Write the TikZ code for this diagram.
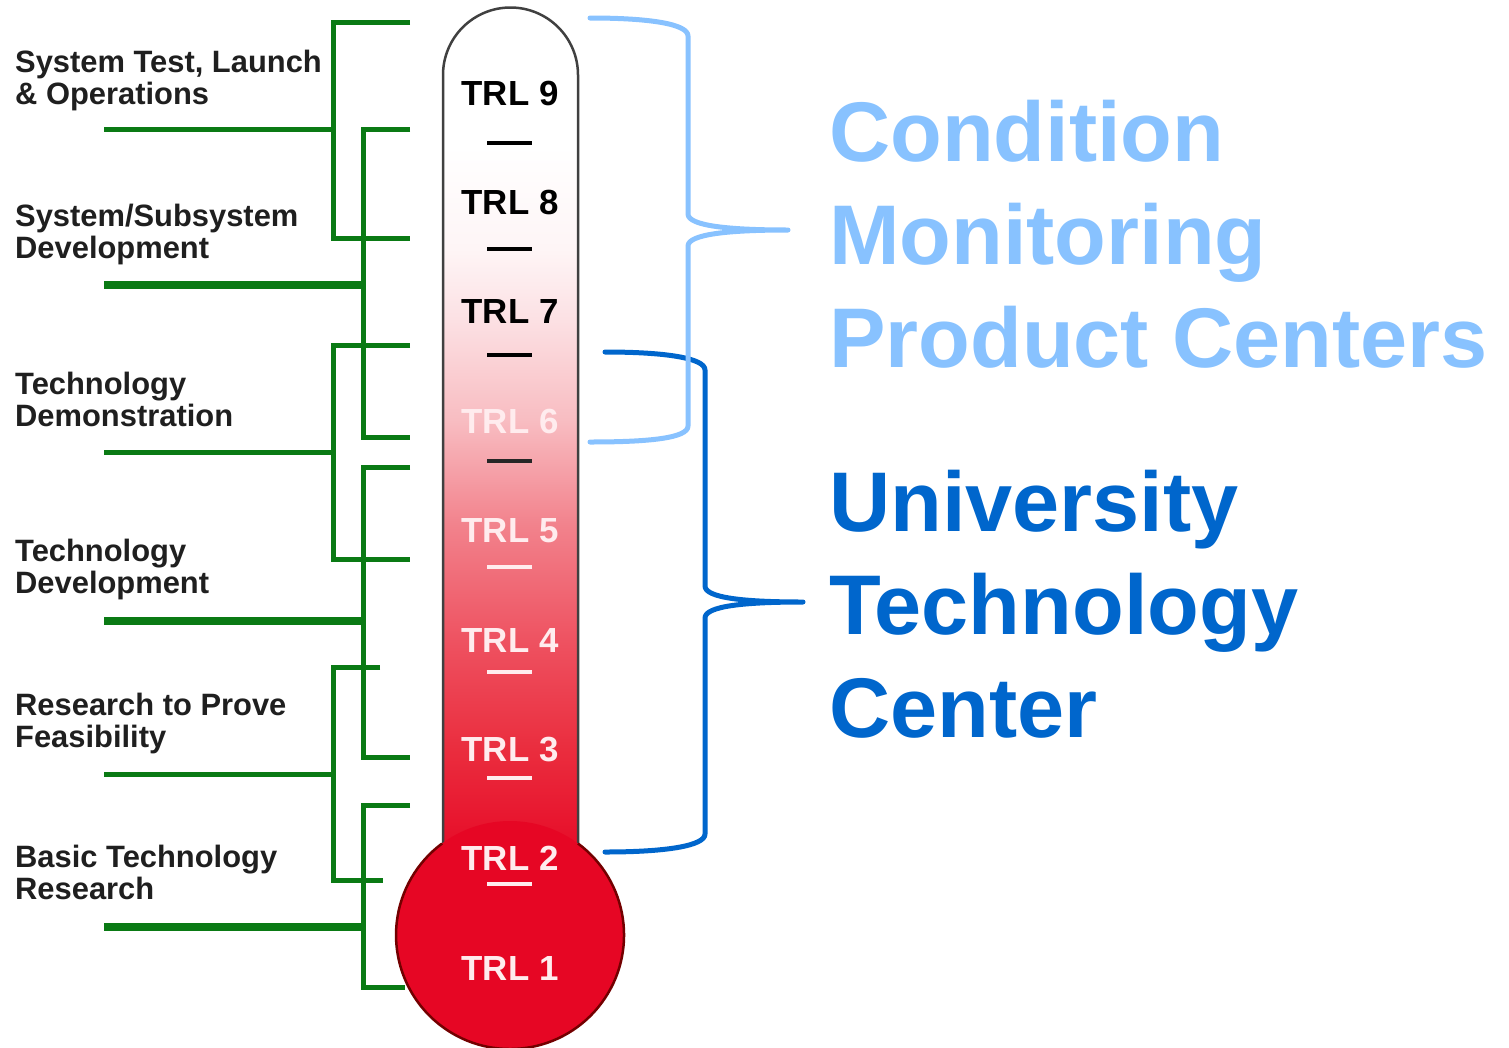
\documentclass[tikz,border=0pt]{standalone}
\usepackage{fontspec}
\setmainfont{Liberation Sans}
\usetikzlibrary{calc}

\definecolor{trlgreen}{RGB}{10,122,20}
\definecolor{cmblue}{RGB}{136,194,255}
\definecolor{utcblue}{RGB}{0,102,204}
\definecolor{bulbred}{RGB}{230,6,36}
\definecolor{tubeA}{RGB}{234,45,62}
\definecolor{tubeB}{RGB}{238,80,95}
\definecolor{tubeC}{RGB}{242,130,140}
\definecolor{tubeD}{RGB}{248,188,193}
\definecolor{tubeE}{RGB}{252,225,228}
\definecolor{tubeF}{RGB}{254,245,246}
\definecolor{trlwhite}{RGB}{255,236,238}
\pgfdeclareverticalshading{thermo}{100bp}{color(0bp)=(bulbred); color(25bp)=(bulbred);
  color(32bp)=(tubeA); color(38bp)=(tubeB); color(45bp)=(tubeC); color(51bp)=(tubeD);
  color(57bp)=(tubeE); color(61bp)=(tubeF); color(67bp)=(white); color(100bp)=(white)}

\begin{document}
\begin{tikzpicture}[x=1bp, y=-1bp,
    stage/.style={anchor=base west, align=left, inner sep=0pt, text=black!88,
        font=\fontsize{31}{32}\selectfont\bfseries},
    trl/.style={anchor=base, inner sep=0pt, font=\fontsize{35}{35}\selectfont\bfseries},
    centre/.style={anchor=base west, align=left, inner sep=0pt,
        font=\fontsize{85}{103}\selectfont\bfseries},
    green line/.style={draw=trlgreen, line width=5bp},
    brace line/.style={line width=5bp, line join=round, line cap=round}]
    \useasboundingbox (0,0) rectangle (1509,1047);

    % stage brackets
    \foreach \ya/\yb/\ys/\xv/\ta/\tb/\w in {22/238/129/333/410/410/5, 129/437/285/363/410/410/8,
        345/559/452/333/410/410/5, 467/757/621/363/410/410/8,
        667/880/774/333/380/383/5, 805/987/927/363/410/405/8}{
        \draw[green line] (\ta,\ya) -- (\xv,\ya) -- (\xv,\yb) -- (\tb,\yb);
        \draw[green line, line width=\w bp] (\xv,\ys) -- (104,\ys);
    }
    \node[stage] (systest) at (15,104) {System Test, Launch\\\& Operations};
    \node[stage] (subsys) at (15,258) {System/Subsystem\\Development};
    \node[stage] (techdemo) at (15,426) {Technology\\Demonstration};
    \node[stage] (techdev) at (15,593) {Technology\\Development};
    \node[stage] (feasib) at (15,747) {Research to Prove\\Feasibility};
    \node[stage] (basic) at (15,899) {Basic Technology\\Research};

    % thermometer
    \shade[shading=thermo, draw=black!75, line width=2.5bp]
        (443,870) -- (443,75) arc[start angle=180, end angle=0, radius=67.5bp] -- (578,870);
    \fill[bulbred] (510,935) circle[radius=114bp];
    \draw[black!55!red, line width=2.5bp] (578,843.5) arc[start angle=53.4, end angle=-233.4, radius=114bp];
    \foreach \k/\col in {2/trlwhite,3/trlwhite,4/trlwhite,5/trlwhite,6/black!85,7/black,8/black,9/black}
        \draw[\col, line width=4bp] (487,{884-(\k-2)*105.8}) -- (532,{884-(\k-2)*105.8});
    \foreach \n/\col in {1/trlwhite,2/trlwhite,3/trlwhite,4/trlwhite,5/trlwhite,6/trlwhite,7/black,8/black,9/black}
        \node[trl, text=\col] (trl\n) at (510,{105+(9-\n)*109.4}) {TRL \n};

    % braces
    \draw[brace line, utcblue] (605,352) .. controls (665,352) and (705,358) .. (705,370) -- (705,586)
        .. controls (705,598) and (745,602) .. (803,602) .. controls (745,602) and (705,606) .. (705,618)
        -- (705,834) .. controls (705,846) and (665,852) .. (605,852);
    \draw[brace line, cmblue] (590,18) .. controls (650,18) and (688,24) .. (688,36) -- (688,214)
        .. controls (688,226) and (730,230) .. (788,230) .. controls (730,230) and (688,234) .. (688,246)
        -- (688,426) .. controls (688,438) and (650,442) .. (590,442);
    \node[centre, text=cmblue] (cmpc) at (829,367) {Condition\\Monitoring\\Product Centers};
    \node[centre, text=utcblue] (utc) at (829,737) {University\\Technology\\Center};
\end{tikzpicture}
\end{document}
